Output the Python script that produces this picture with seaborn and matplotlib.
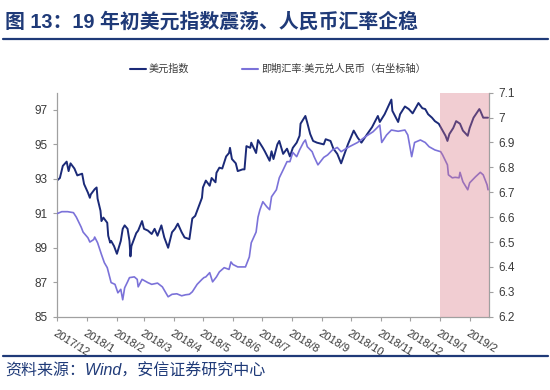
import pandas as pd
import matplotlib
matplotlib.use('Agg')
import matplotlib.pyplot as plt
from matplotlib.lines import Line2D
import seaborn as sns

# 美元指数（左轴）
dxy_dates = ['2017-12-01', '2017-12-04', '2017-12-07', '2017-12-11', '2017-12-13', '2017-12-15', '2017-12-19', '2017-12-22', '2017-12-27', '2017-12-29',
             '2018-01-02', '2018-01-04', '2018-01-05', '2018-01-09', '2018-01-11', '2018-01-12', '2018-01-15', '2018-01-16', '2018-01-18', '2018-01-22',
             '2018-01-23', '2018-01-25', '2018-01-26', '2018-01-29', '2018-02-01', '2018-02-05', '2018-02-07', '2018-02-09', '2018-02-12', '2018-02-14',
             '2018-02-15', '2018-02-16', '2018-02-21', '2018-02-23', '2018-02-27', '2018-03-01', '2018-03-05', '2018-03-09', '2018-03-12', '2018-03-15',
             '2018-03-19', '2018-03-22', '2018-03-26', '2018-03-30', '2018-04-02', '2018-04-05', '2018-04-09', '2018-04-12', '2018-04-17', '2018-04-20',
             '2018-04-23', '2018-04-26', '2018-04-30', '2018-05-01', '2018-05-04', '2018-05-08', '2018-05-10', '2018-05-14', '2018-05-15', '2018-05-18',
             '2018-05-21', '2018-05-25', '2018-05-28', '2018-05-29', '2018-05-31', '2018-06-04', '2018-06-06', '2018-06-11', '2018-06-13', '2018-06-15',
             '2018-06-19', '2018-06-20', '2018-06-25', '2018-06-27', '2018-07-02', '2018-07-04', '2018-07-09', '2018-07-11', '2018-07-13', '2018-07-17',
             '2018-07-19', '2018-07-23', '2018-07-27', '2018-07-30', '2018-08-02', '2018-08-06', '2018-08-09', '2018-08-10', '2018-08-15', '2018-08-17',
             '2018-08-20', '2018-08-23', '2018-08-27', '2018-09-03', '2018-09-05', '2018-09-10', '2018-09-13', '2018-09-17', '2018-09-21', '2018-09-28',
             '2018-10-04', '2018-10-08', '2018-10-12', '2018-10-18', '2018-10-23', '2018-10-29', '2018-10-31', '2018-11-05', '2018-11-12', '2018-11-13',
             '2018-11-19', '2018-11-21', '2018-11-26', '2018-11-30', '2018-12-04', '2018-12-10', '2018-12-14', '2018-12-17', '2018-12-20', '2018-12-24',
             '2018-12-27', '2018-12-31', '2019-01-04', '2019-01-07', '2019-01-09', '2019-01-11', '2019-01-15', '2019-01-18', '2019-01-22', '2019-01-25',
             '2019-01-30', '2019-02-01', '2019-02-05', '2019-02-11', '2019-02-12', '2019-02-15', '2019-02-20']
dxy_values = [92.9, 93.05, 93.75, 94.0, 93.45, 93.9, 93.6, 93.2, 93.3, 92.7,
              92.2, 91.9, 92.1, 92.4, 92.5, 91.85, 91.15, 90.55, 90.75, 90.45,
              89.7, 89.3, 89.4, 89.1, 88.65, 89.4, 90.1, 90.3, 90.1, 89.4,
              88.5, 89.1, 89.85, 90.0, 90.55, 90.1, 90.0, 89.8, 90.1, 89.7,
              90.3, 89.6, 89.0, 89.9, 90.1, 90.4, 89.9, 89.6, 89.5, 90.7,
              90.85, 91.3, 91.9, 92.5, 92.9, 92.6, 93.05, 92.8, 93.35, 93.65,
              93.6, 94.3, 94.5, 94.8, 94.15, 93.9, 93.45, 93.55, 93.55, 94.9,
              94.8, 95.1, 94.5, 95.25, 94.8, 94.6, 94.05, 94.6, 94.15, 95.0,
              95.2, 94.45, 94.75, 94.3, 94.8, 95.1, 95.5, 96.2, 96.65, 96.25,
              95.6, 95.2, 95.1, 95.0, 95.3, 95.2, 94.75, 94.45, 93.9, 95.0,
              95.8, 95.4, 95.1, 95.6, 96.0, 96.65, 96.3, 96.75, 97.6, 96.95,
              96.3, 96.75, 97.2, 97.05, 96.8, 97.4, 97.1, 97.05, 96.75, 96.55,
              96.35, 96.2, 95.8, 95.5, 95.2, 95.6, 95.95, 96.35, 96.2, 95.8,
              95.5, 95.95, 96.55, 97.05, 96.95, 96.55, 96.55]

# 即期汇率:美元兑人民币（右轴）
cny_dates = ['2017-12-01', '2017-12-06', '2017-12-12', '2017-12-18', '2017-12-21', '2017-12-26', '2017-12-28', '2018-01-02', '2018-01-04', '2018-01-08',
             '2018-01-09', '2018-01-12', '2018-01-16', '2018-01-19', '2018-01-22', '2018-01-26', '2018-01-30', '2018-02-02', '2018-02-05', '2018-02-07',
             '2018-02-09', '2018-02-12', '2018-02-14', '2018-02-19', '2018-02-22', '2018-02-23', '2018-02-27', '2018-03-05', '2018-03-09', '2018-03-15',
             '2018-03-20', '2018-03-26', '2018-03-30', '2018-04-04', '2018-04-09', '2018-04-13', '2018-04-17', '2018-04-20', '2018-04-25', '2018-04-30',
             '2018-05-02', '2018-05-04', '2018-05-08', '2018-05-11', '2018-05-15', '2018-05-18', '2018-05-23', '2018-05-28', '2018-05-30', '2018-06-01',
             '2018-06-06', '2018-06-11', '2018-06-14', '2018-06-18', '2018-06-20', '2018-06-25', '2018-06-27', '2018-06-29', '2018-07-02', '2018-07-06',
             '2018-07-09', '2018-07-11', '2018-07-16', '2018-07-19', '2018-07-23', '2018-07-27', '2018-07-30', '2018-08-02', '2018-08-06', '2018-08-09',
             '2018-08-13', '2018-08-15', '2018-08-17', '2018-08-22', '2018-08-24', '2018-08-28', '2018-09-03', '2018-09-07', '2018-09-12', '2018-09-17',
             '2018-09-21', '2018-09-28', '2018-10-08', '2018-10-16', '2018-10-24', '2018-10-31', '2018-11-02', '2018-11-07', '2018-11-12', '2018-11-19',
             '2018-11-26', '2018-11-29', '2018-12-03', '2018-12-06', '2018-12-12', '2018-12-17', '2018-12-21', '2018-12-27', '2019-01-02', '2019-01-04',
             '2019-01-09', '2019-01-10', '2019-01-14', '2019-01-17', '2019-01-21', '2019-01-22', '2019-01-25', '2019-01-30', '2019-02-01', '2019-02-07',
             '2019-02-12', '2019-02-15', '2019-02-19', '2019-02-20']
cny_values = [6.614, 6.622, 6.622, 6.618, 6.60, 6.56, 6.54, 6.517, 6.50, 6.51,
              6.52, 6.497, 6.45, 6.417, 6.397, 6.337, 6.33, 6.296, 6.31, 6.268,
              6.316, 6.34, 6.357, 6.36, 6.35, 6.32, 6.35, 6.337, 6.33, 6.335,
              6.32, 6.28, 6.29, 6.292, 6.284, 6.288, 6.29, 6.30, 6.33, 6.35,
              6.357, 6.36, 6.377, 6.34, 6.36, 6.38, 6.397, 6.39, 6.42, 6.41,
              6.40, 6.40, 6.40, 6.44, 6.497, 6.54, 6.60, 6.63, 6.662, 6.642,
              6.63, 6.682, 6.71, 6.758, 6.79, 6.823, 6.823, 6.86, 6.843, 6.87,
              6.90, 6.91, 6.883, 6.863, 6.843, 6.81, 6.84, 6.85, 6.87, 6.88,
              6.863, 6.88, 6.90, 6.923, 6.943, 6.97, 6.90, 6.93, 6.95, 6.945,
              6.95, 6.93, 6.843, 6.90, 6.91, 6.90, 6.883, 6.87, 6.863, 6.85,
              6.81, 6.77, 6.758, 6.76, 6.758, 6.78, 6.742, 6.71, 6.738, 6.762,
              6.78, 6.77, 6.73, 6.71]

month_labels = ['2017/12', '2018/1', '2018/2', '2018/3', '2018/4', '2018/5', '2018/6', '2018/7',
                '2018/8', '2018/9', '2018/10', '2018/11', '2018/12', '2019/1', '2019/2']
left_ticks = [85, 87, 89, 91, 93, 95, 97]
right_ticks = [6.2, 6.3, 6.4, 6.5, 6.6, 6.7, 6.8, 6.9, 7.0, 7.1]
right_labels = ['6.2', '6.3', '6.4', '6.5', '6.6', '6.7', '6.8', '6.9', '7', '7.1']
x_start = '2017-12-01'
x_end = '2019-02-21'
highlight_start = '2019-01-01'

title = '图 13：19 年初美元指数震荡、人民币汇率企稳'
source = '资料来源：Wind，安信证券研究中心'
name_dxy = '美元指数'
name_cny = '即期汇率:美元兑人民币（右坐标轴）'

navy = '#1b2a78'
lavender = '#7b72d9'
title_blue = '#1f3a78'
axis_grey = '#a0a0a0'
text_grey = '#3a3a3a'

sns.set_style('white')
plt.rcParams['font.family'] = ['Liberation Sans', 'Noto Sans CJK SC', 'DejaVu Sans']

dxy = pd.DataFrame({'date': pd.to_datetime(dxy_dates), 'value': dxy_values})
cny = pd.DataFrame({'date': pd.to_datetime(cny_dates), 'value': cny_values})
tick_dates = pd.date_range(x_start, periods=len(month_labels), freq='MS')

fig = plt.figure(figsize=(5.5, 3.9), dpi=100)
ax = fig.add_axes([57 / 550, 1 - 316.7 / 390, (489 - 57) / 550, (316.7 - 92.7) / 390])
ax2 = ax.twinx()

sns.lineplot(data=dxy, x='date', y='value', ax=ax, color=navy, linewidth=1.4)
sns.lineplot(data=cny, x='date', y='value', ax=ax2, color=lavender, linewidth=1.2)

# 19年以来的阴影区
ax2.axvspan(pd.Timestamp(highlight_start), pd.Timestamp(x_end), color='#d9707f', alpha=0.35, lw=0, zorder=5)

ax.set_xlim(pd.Timestamp(x_start), pd.Timestamp(x_end))
ax.set_ylim(85, 98)
ax2.set_ylim(6.2, 7.1)
ax.set_yticks(left_ticks)
ax.set_yticklabels([str(t) for t in left_ticks])
ax2.set_yticks(right_ticks)
ax2.set_yticklabels(right_labels)
ax.set_xticks(tick_dates)
ax.set_xticklabels(month_labels, rotation=-32, ha='left', va='top', rotation_mode='anchor')

for a in (ax, ax2):
    a.set_xlabel('')
    a.set_ylabel('')
    for s in a.spines.values():
        s.set_color(axis_grey)
        s.set_linewidth(0.9)
    a.spines['top'].set_visible(False)
ax.spines['right'].set_visible(False)
ax2.spines['left'].set_visible(False)
ax2.spines['bottom'].set_visible(False)

ax.tick_params(axis='y', left=True, length=3, width=0.8, color=axis_grey, labelsize=8.5, labelcolor=text_grey, pad=4)
ax.tick_params(axis='x', bottom=True, length=3, width=0.8, color=axis_grey, labelsize=8, labelcolor=text_grey, pad=5)
ax2.tick_params(axis='y', right=True, length=3, width=0.8, color=axis_grey, labelsize=8.5, labelcolor=text_grey, pad=4)
ax.grid(False)
ax2.grid(False)

handles = [Line2D([], [], color=navy, lw=1.5), Line2D([], [], color=lavender, lw=1.5)]
fig.legend(handles, [name_dxy, name_cny], loc='center', bbox_to_anchor=(0.505, 1 - 69 / 390), ncol=2,
           frameon=False, fontsize=7.3, handlelength=1.6, handletextpad=0.3, columnspacing=5.2,
           labelcolor=text_grey)

fig.text(5 / 550, 1 - 22 / 390, title, fontsize=14.3, fontweight='bold', color=title_blue, ha='left', va='center')
fig.add_artist(Line2D([3 / 550, 548 / 550], [1 - 38.5 / 390] * 2, color=title_blue, lw=1.6))
fig.add_artist(Line2D([3 / 550, 548 / 550], [1 - 356 / 390] * 2, color=title_blue, lw=1.6))
fig.text(5 / 550, 1 - 371 / 390, source, fontsize=11.5, style='italic', color=title_blue, ha='left', va='center')

fig.savefig('out.png', dpi=100)
